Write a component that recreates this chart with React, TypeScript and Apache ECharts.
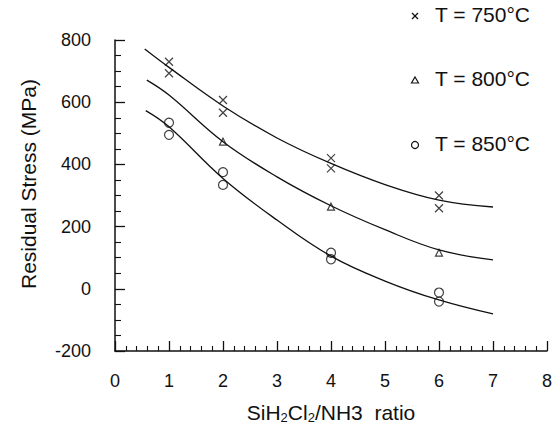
import React, { useEffect, useRef } from "react";
import * as echarts from "echarts";

// Measured points (ratio, MPa)
const pts750: [number, number][] = [[1, 730], [1, 693], [2, 607], [2, 566], [4, 420], [4, 387], [6, 300], [6, 259]];
const pts800: [number, number][] = [[2, 473], [4, 264], [6, 116]];
const pts850: [number, number][] = [[1, 534], [1, 495], [2, 375], [2, 334], [4, 116], [4, 95], [6, -12], [6, -41]];

// Fitted curves
const fit750: [number, number][] = [[0.55, 771], [1, 712], [2, 588], [3, 485], [4, 403], [5, 335], [6, 285], [7, 263]];
const fit800: [number, number][] = [[0.59, 671], [1, 623], [2, 473], [3, 360], [4, 267], [5, 190], [6, 125], [7, 93]];
const fit850: [number, number][] = [[0.57, 573], [1, 521], [2, 355], [3, 221], [4, 105], [5, 25], [6, -36], [7, -81]];

const legendNames = ["T = 750°C", "T = 800°C", "T = 850°C"];

const FONT = "'Liberation Sans', Arial, Helvetica, sans-serif";
const INK = "#111";
const CROSS = "path://M0,0L10,10M0,10L10,0";

export default function App() {
  const ref = useRef<HTMLDivElement>(null);
  useEffect(() => {
    if (!ref.current) return;
    const chart = echarts.init(ref.current, undefined, { renderer: "svg" });
    const markerStyle = { color: "rgba(0,0,0,0)", borderColor: INK, borderWidth: 1.2 };
    const lineSeries = (data: [number, number][]) => ({
      type: "line",
      data,
      smooth: 0.4,
      showSymbol: false,
      symbol: "none",
      lineStyle: { color: INK, width: 1.3 },
      silent: true,
      z: 1,
    });
    const stroke = { stroke: INK, lineWidth: 1.2, fill: "none" };
    const legendText = (i: number, y: number) => ({
      type: "text",
      left: 435,
      top: y - 12,
      style: { text: legendNames[i], fontFamily: FONT, fontSize: 21, fill: INK },
    });
    chart.setOption({
      animation: false,
      backgroundColor: "#fff",
      grid: { left: 115, right: 10, top: 40, bottom: 92, containLabel: false },
      graphic: [
        // legend: cross
        { type: "line", shape: { x1: 412, y1: 13, x2: 418, y2: 19 }, style: stroke },
        { type: "line", shape: { x1: 412, y1: 19, x2: 418, y2: 13 }, style: stroke },
        legendText(0, 16),
        // legend: triangle
        { type: "polygon", shape: { points: [[415, 77], [418.5, 83], [411.5, 83]] }, style: stroke },
        legendText(1, 80),
        // legend: circle
        { type: "circle", shape: { cx: 415, cy: 145, r: 3.5 }, style: stroke },
        legendText(2, 145),
        // y axis title
        {
          type: "text",
          x: 28,
          y: 184,
          rotation: Math.PI / 2,
          style: {
            text: "Residual Stress (MPa)",
            fontFamily: FONT,
            fontSize: 21,
            fill: INK,
            align: "center",
            verticalAlign: "middle",
          },
        },
      ],
      xAxis: {
        type: "value",
        min: 0,
        max: 8,
        interval: 1,
        name: "SiH{sub|2}Cl{sub|2}/NH3  ratio",
        nameLocation: "middle",
        nameGap: 50,
        nameTextStyle: {
          fontFamily: FONT,
          fontSize: 21,
          color: INK,
          rich: { sub: { fontFamily: FONT, fontSize: 13, color: INK, verticalAlign: "bottom", padding: [10, 0, 0, 0] } },
        },
        axisLine: { show: true, onZero: false, lineStyle: { color: INK, width: 1.5 } },
        axisTick: { show: true, inside: true, length: 10, lineStyle: { color: INK, width: 1.3 } },
        minorTick: { show: true, splitNumber: 5, length: 5, lineStyle: { color: INK, width: 1.1 } },
        splitLine: { show: false },
        axisLabel: { fontFamily: FONT, fontSize: 18, color: INK, margin: 21 },
      },
      yAxis: {
        type: "value",
        min: -200,
        max: 800,
        interval: 200,
        axisLine: { show: true, onZero: false, lineStyle: { color: INK, width: 1.5 } },
        axisTick: { show: true, inside: true, length: 10, lineStyle: { color: INK, width: 1.3 } },
        minorTick: { show: true, splitNumber: 4, length: 6, lineStyle: { color: INK, width: 1.1 } },
        splitLine: { show: false },
        axisLabel: { fontFamily: FONT, fontSize: 18, color: INK, margin: 24 },
      },
      series: [
        lineSeries(fit750),
        lineSeries(fit800),
        lineSeries(fit850),
        { name: legendNames[0], type: "scatter", data: pts750, symbol: CROSS, symbolSize: 8, itemStyle: markerStyle, z: 3 },
        { name: legendNames[1], type: "scatter", data: pts800, symbol: "triangle", symbolSize: 7, itemStyle: markerStyle, z: 3 },
        { name: legendNames[2], type: "scatter", data: pts850, symbol: "circle", symbolSize: 9, itemStyle: markerStyle, z: 3 },
      ],
    });
    return () => chart.dispose();
  }, []);
  return <div ref={ref} style={{ position: "absolute", left: 0, top: 0, width: 557, height: 443 }} />;
}
